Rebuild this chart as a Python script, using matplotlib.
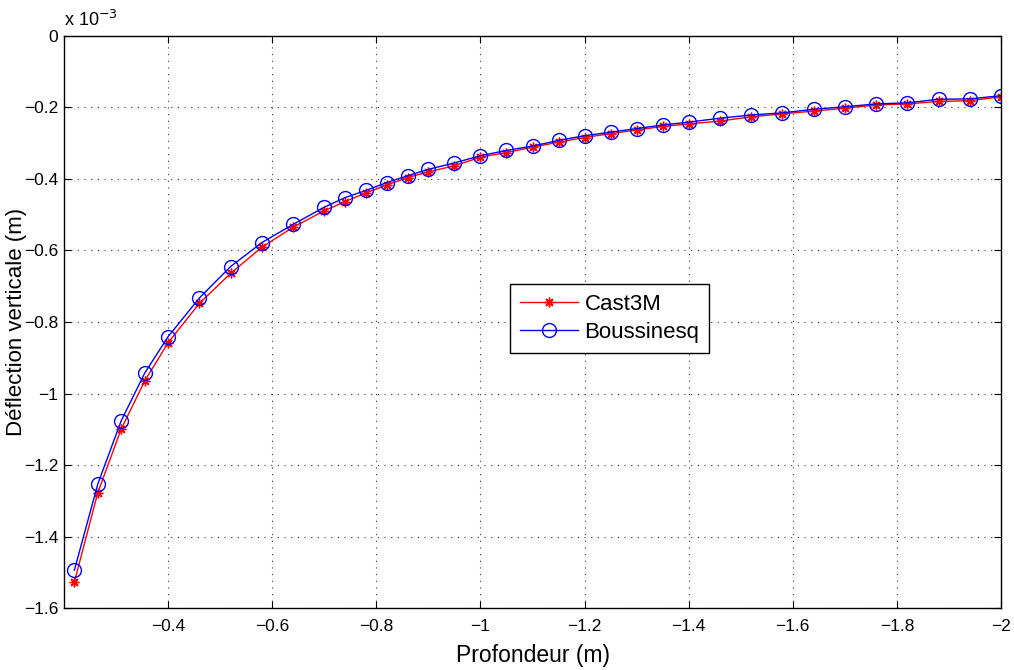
import matplotlib
matplotlib.use('Agg')
import matplotlib.pyplot as plt
from matplotlib.ticker import FuncFormatter

plt.rcParams['font.family'] = ['Liberation Sans', 'DejaVu Sans']
plt.rcParams['axes.unicode_minus'] = True

# profondeur (m)
depth = [-0.22, -0.265, -0.31, -0.355, -0.40, -0.46, -0.52, -0.58, -0.64, -0.70,
         -0.74, -0.78, -0.82, -0.86, -0.90, -0.95, -1.00, -1.05, -1.10, -1.15,
         -1.20, -1.25, -1.30, -1.35, -1.40, -1.46, -1.52, -1.58, -1.64, -1.70,
         -1.76, -1.82, -1.88, -1.94, -2.00]

# deflection in units of 1e-3 m
cast3m = [-1.527, -1.277, -1.099, -0.965, -0.858, -0.748, -0.664, -0.591, -0.535, -0.489,
          -0.463, -0.439, -0.417, -0.396, -0.380, -0.363, -0.339, -0.326, -0.311, -0.297,
          -0.284, -0.273, -0.263, -0.253, -0.246, -0.238, -0.226, -0.218, -0.210, -0.202,
          -0.193, -0.190, -0.183, -0.181, -0.170]
boussinesq = [-1.494, -1.253, -1.076, -0.943, -0.841, -0.733, -0.645, -0.578, -0.527, -0.479,
              -0.452, -0.432, -0.410, -0.391, -0.373, -0.355, -0.335, -0.320, -0.308, -0.292,
              -0.279, -0.269, -0.259, -0.249, -0.241, -0.230, -0.221, -0.215, -0.205, -0.198,
              -0.190, -0.187, -0.177, -0.176, -0.167]

xticks = [-0.4, -0.6, -0.8, -1.0, -1.2, -1.4, -1.6, -1.8, -2.0]
yticks = [0, -0.2, -0.4, -0.6, -0.8, -1.0, -1.2, -1.4, -1.6]

scale = 1e-3
y1 = [v * scale for v in cast3m]
y2 = [v * scale for v in boussinesq]

fig = plt.figure(figsize=(10.14, 6.70), dpi=100)
ax = fig.add_axes([0.0631, 0.0925, 0.9241, 0.8538])

ax.plot(depth, y1, color='red', lw=1, marker=(8, 2, 0), ms=7, mew=1, label='Cast3M')
ax.plot(depth, y2, color='blue', lw=1, marker='o', ms=10, mfc='none', mew=1, label='Boussinesq')

ax.set_xlim(-0.2, -2.0)
ax.set_ylim(-1.6 * scale, 0)
ax.set_xticks(xticks)
ax.set_yticks([t * scale for t in yticks])
ax.xaxis.set_major_formatter(FuncFormatter(lambda v, p: ('%g' % round(v, 3)).replace('-', '\u2212')))
ax.yaxis.set_major_formatter(FuncFormatter(lambda v, p: ('%g' % round(v / scale, 3)).replace('-', '\u2212')))

ax.grid(True, color='#333333', linestyle=(0, (1, 5)), linewidth=0.8)
ax.tick_params(direction='in', top=True, right=True, length=5, labelsize=12.5)
ax.tick_params(axis='x', pad=8)
ax.tick_params(axis='y', pad=4)
for s in ax.spines.values():
    s.set_linewidth(1)

ax.text(0, 1.01, 'x 10$^{-3}$', transform=ax.transAxes, fontsize=13, va='bottom', ha='left')

ax.set_xlabel('Profondeur (m)', fontsize=16.5, labelpad=7)
ax.set_ylabel('Déflection verticale (m)', fontsize=16)
ax.yaxis.set_label_coords(-0.039, 0.5)

leg = ax.legend(loc='upper left', bbox_to_anchor=(0.476, 0.566), borderaxespad=0,
                fontsize=16, fancybox=False, edgecolor='black', framealpha=1,
                handlelength=2.6, handletextpad=0.3, labelspacing=0.3, borderpad=0.45)
leg.get_frame().set_linewidth(1)

fig.savefig('out.png', dpi=100)
